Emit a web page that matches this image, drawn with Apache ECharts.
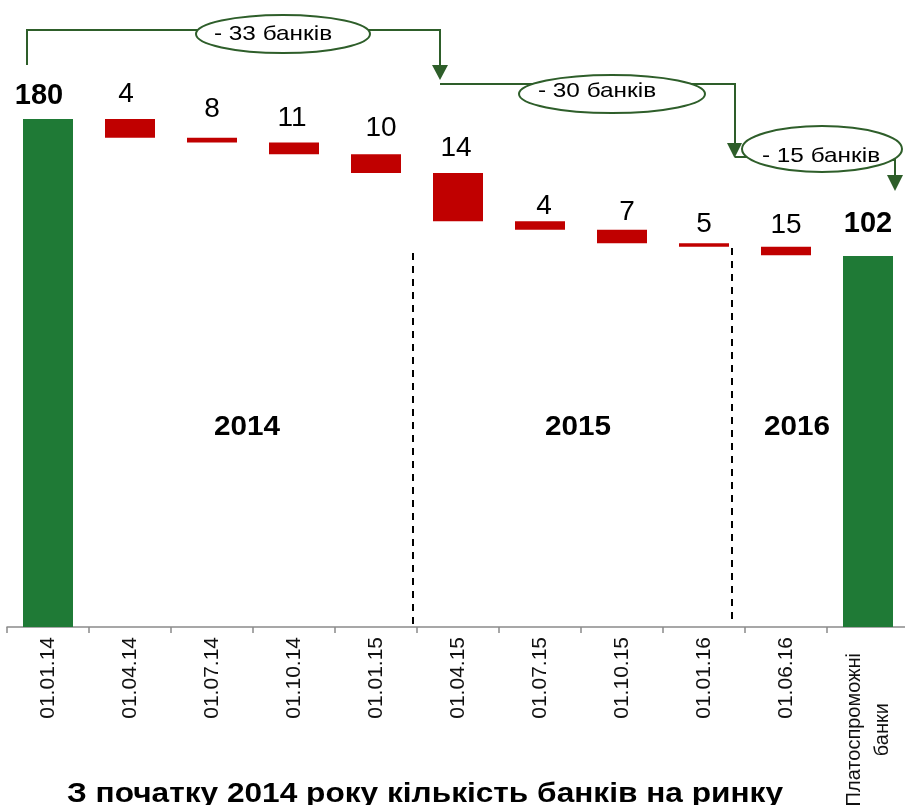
<!DOCTYPE html>
<html><head><meta charset="utf-8">
<script src="https://cdn.jsdelivr.net/npm/echarts@6/dist/echarts.min.js"></script>
<style>html,body{margin:0;padding:0;background:#fff}#c{width:905px;height:805px}</style>
</head><body><div id="c"></div>
<script>
// ---- data ----
const categories = ['01.01.14','01.04.14','01.07.14','01.10.14','01.01.15','01.04.15','01.07.15','01.10.15','01.01.16','01.06.16','Платоспроможні банки'];
const printedValues = [180, 4, 8, 11, 10, 14, 4, 7, 5, 15, 102];
const barKinds = ['total','drop','drop','drop','drop','drop','drop','drop','drop','drop','total'];
// bar extents as drawn (on the chart's own scale, where the first bar reaches 180)
const barFrom = [0, 180, 173.4, 171.7, 167.5, 160.9, 143.8, 140.8, 136.0, 134.7, 0];
const barTo   = [180, 173.4, 171.7, 167.5, 160.9, 143.8, 140.8, 136.0, 134.7, 131.7, 131.5];
const yearLabels = ['2014', '2015', '2016'];
const periodChanges = ['- 33 банків', '- 30 банків', '- 15 банків'];
const chartTitle = 'З початку 2014 року кількість банків на ринку';

// ---- styles ----
const FONT = '"Liberation Sans", Arial, sans-serif';
const GREEN = '#1f7a36', RED = '#c00000', LINE = '#2e5e2a';
const labelDist = [9, 11, 14, 10, 12, 11, 1, 3, 5, 8, 17];
const labelDx = [-9, -4, 0, -2, 5, -2, 4, 5, 0, 0, 0];

const baseData = barFrom.map((f, i) => Math.min(f, barTo[i]));
const valData = barFrom.map((f, i) => ({
  value: Math.abs(barTo[i] - f),
  itemStyle: { color: barKinds[i] === 'total' ? GREEN : RED },
  label: {
    distance: labelDist[i],
    offset: [labelDx[i], 0],
    fontWeight: barKinds[i] === 'total' ? 'bold' : 'normal',
    fontSize: barKinds[i] === 'total' ? 29 : 28
  }
}));

const chart = echarts.init(document.getElementById('c'), null, { renderer: 'canvas' });

function txt(x, y, text, size, weight, sx) {
  return { type: 'text', x, y, z: 20, scaleX: sx || 1, style: { text, fill: '#000', fontSize: size, fontWeight: weight || 'normal', fontFamily: FONT, align: 'center', verticalAlign: 'middle' } };
}
function poly(points) {
  return { type: 'polyline', z: 10, shape: { points }, style: { stroke: LINE, lineWidth: 2, fill: null } };
}
function arrow(x, yTop, yTip, hw) {
  return { type: 'polygon', z: 10, shape: { points: [[x - hw, yTop], [x + hw, yTop], [x, yTip]] }, style: { fill: LINE } };
}
function ell(cx, cy, rx, ry) {
  return { type: 'ellipse', z: 15, shape: { cx, cy, rx, ry }, style: { fill: '#fff', stroke: LINE, lineWidth: 2 } };
}
function dash(x, y1, y2) {
  return { type: 'line', z: 5, shape: { x1: x, y1, x2: x, y2 }, style: { stroke: '#000', lineWidth: 2, lineDash: [7, 6] } };
}

const graphics = [
  dash(413, 253, 624),
  dash(732, 248, 624),
  txt(247, 428, yearLabels[0], 27, 'bold', 1.1),
  txt(578, 428, yearLabels[1], 27, 'bold', 1.1),
  txt(797, 428, yearLabels[2], 27, 'bold', 1.1),
  // bracket 1
  poly([[27, 65], [27, 30], [440, 30], [440, 68]]),
  arrow(440, 65, 80, 8),
  ell(283, 34, 87, 19),
  txt(273, 34, periodChanges[0], 21, 'normal', 1.16),
  // bracket 2
  poly([[440, 84], [735, 84], [735, 146]]),
  arrow(734.5, 143, 158, 7.5),
  ell(612, 94, 93, 19),
  txt(597, 91, periodChanges[1], 21, 'normal', 1.16),
  // bracket 3
  poly([[735, 157], [760, 157]]),
  poly([[880, 160], [895, 160], [895, 178]]),
  arrow(895, 175, 191, 8),
  ell(822, 149, 80, 23),
  txt(821, 156, periodChanges[2], 21, 'normal', 1.16),
  // title
  txt(425, 794, chartTitle, 28, 'bold', 1.13)
];

chart.setOption({
  animation: false,
  backgroundColor: '#fff',
  grid: { left: 7, width: 902, top: 119, bottom: 178, containLabel: false, outerBoundsMode: 'none' },
  xAxis: {
    type: 'category',
    data: categories,
    axisLine: { lineStyle: { color: '#8a8a8a', width: 1.5 } },
    axisTick: { show: true, length: 6, lineStyle: { color: '#8a8a8a', width: 1.5 } },
    axisLabel: {
      rotate: 90, margin: 10, interval: 0, fontSize: 21, color: '#111', fontFamily: FONT,
      formatter: (v, i) => i === categories.length - 1 ? '{a|Платоспроможні}\n{b|банки}' : v,
      rich: {
        a: { fontSize: 20, fontFamily: FONT, color: '#111', align: 'center', lineHeight: 28, padding: [0, 16, 0, 0] },
        b: { fontSize: 20, fontFamily: FONT, color: '#111', align: 'center', lineHeight: 28, padding: [0, 16, 0, 0] }
      }
    }
  },
  yAxis: { type: 'value', min: 0, max: 180, show: false, splitLine: { show: false } },
  series: [
    { type: 'bar', stack: 'w', data: baseData, barWidth: 50, itemStyle: { color: 'rgba(0,0,0,0)' }, silent: true },
    {
      type: 'bar', stack: 'w', data: valData, barWidth: 50,
      label: { show: true, position: 'top', color: '#000', fontFamily: FONT, formatter: p => String(printedValues[p.dataIndex]) }
    }
  ],
  graphic: graphics
});
</script></body></html>
